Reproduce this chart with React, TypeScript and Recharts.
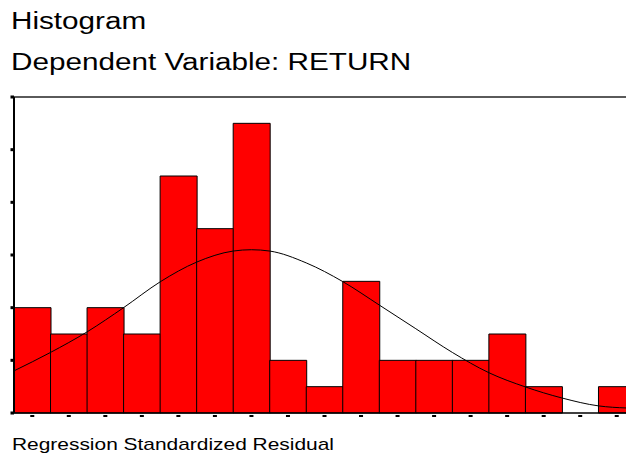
import { ComposedChart, Bar, Line, XAxis, YAxis, ReferenceLine } from 'recharts'

// histogram counts, one per bin
const binCounts = [4, 3, 4, 3, 9, 7, 11, 2, 1, 5, 2, 2, 2, 3, 1, 0, 1]

// normal curve, positions in bin units (0 = left edge of first bin)
const curveAt = [0, 1, 2, 3, 4, 5, 6, 6.5, 7, 8, 9, 10, 11, 12, 13, 14, 15, 16, 16.77]
const curveValues = [1.6, 2.3, 3.08, 4.0, 4.98, 5.73, 6.15, 6.2, 6.15, 5.7, 4.99, 4.1, 3.2, 2.3, 1.53, 0.99, 0.57, 0.27, 0.19]

const yTicks = [0, 2, 4, 6, 8, 10, 12]

const bins = binCounts.map((count, i) => ({ bin: `b${i + 1}`, count }))
const curve = curveAt.map((x, i) => ({ x, curve: curveValues[i] }))

const font = '"Liberation Sans", Arial, sans-serif'

const XTick = (props: any) => (
  <rect x={props.x - 2} y={props.y + 2} width={4} height={2} fill="#000" />
)

const YTick = (props: any) => (
  <rect x={props.x - 3.5} y={props.y - 1.5} width={3.5} height={3} fill="#000" />
)

const textStyle = (top: number, left: number, size: number, sx: number): React.CSSProperties => ({
  position: 'absolute',
  top,
  left,
  fontSize: size,
  lineHeight: `${size}px`,
  fontFamily: font,
  color: '#000',
  whiteSpace: 'nowrap',
  transform: `scaleX(${sx})`,
  transformOrigin: 'left',
})

export default function App() {
  return (
    <div
      style={{
        position: 'absolute',
        left: 0,
        top: 0,
        width: 626,
        height: 454,
        overflow: 'hidden',
        background: '#fff',
      }}
    >
      <div style={textStyle(9.5, 11, 23, 1.29)}>Histogram</div>
      <div style={textStyle(50.5, 11, 23, 1.29)}>Dependent Variable: RETURN</div>
      <div style={textStyle(435.6, 12, 17, 1.23)}>Regression Standardized Residual</div>
      <div style={{ position: 'absolute', left: 0, top: 0 }}>
        <ComposedChart
          width={635}
          height={454}
          data={bins}
          barCategoryGap={0}
          margin={{ top: 97, right: 0, bottom: 31, left: 0 }}
        >
          <XAxis
            xAxisId="bins"
            dataKey="bin"
            type="category"
            height={10}
            tickSize={0}
            tickMargin={0}
            tickLine={false}
            tick={<XTick />}
            axisLine={{ stroke: '#000', strokeWidth: 1.5 }}
          />
          <XAxis xAxisId="curve" dataKey="x" type="number" domain={[0, 17]} allowDataOverflow hide />
          <YAxis
            type="number"
            domain={[0, 12]}
            ticks={yTicks}
            width={14}
            tickSize={0}
            tickMargin={0}
            tickLine={false}
            tick={<YTick />}
            axisLine={{ stroke: '#000', strokeWidth: 2 }}
          />
          <ReferenceLine xAxisId="bins" y={12} stroke="#5a5a5a" strokeWidth={2} />
          <Bar
            xAxisId="bins"
            dataKey="count"
            fill="#ff0000"
            stroke="#000"
            strokeWidth={1}
            isAnimationActive={false}
          />
          <Line
            xAxisId="curve"
            data={curve}
            dataKey="curve"
            type="monotone"
            stroke="#000"
            strokeWidth={1}
            dot={false}
            isAnimationActive={false}
          />
        </ComposedChart>
      </div>
    </div>
  )
}
